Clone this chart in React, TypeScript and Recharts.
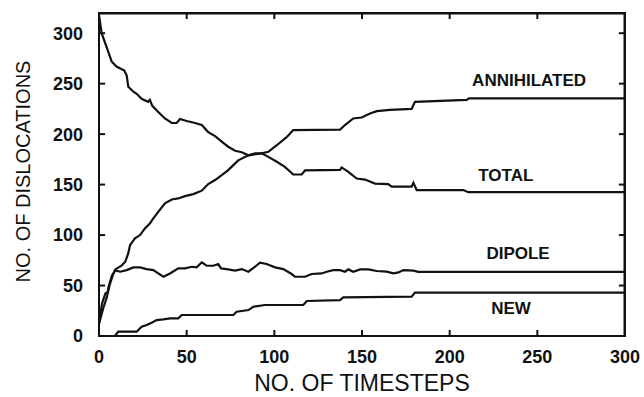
import { LineChart, Line, XAxis, YAxis, ReferenceDot, ReferenceArea } from "recharts";

type Pt = [number, number];

// [timestep, count]
const total: Pt[] = [
  [0, 318], [1.5, 300], [4.4, 286], [7.2, 272], [10, 267], [14.4, 263], [15.8, 258],
  [16.7, 247], [19.6, 242], [21.5, 240], [24.3, 235], [28, 232], [29, 234], [30.4, 228],
  [33.8, 222], [37.6, 215.5], [41.5, 211], [44.3, 211], [46.2, 215], [50, 213], [54.8, 211],
  [58.6, 209], [62.3, 202], [66.2, 198], [70, 192.5], [73.7, 187.5], [77.6, 183.5],
  [81.4, 182], [85.2, 179], [89, 181], [92.8, 181], [96.6, 177.5], [101.4, 172.6],
  [106, 167.6], [110.8, 160], [115.6, 160], [117.5, 164], [137.5, 164.5], [138.4, 167],
  [142.2, 162.7], [147, 156], [151.7, 155], [157.4, 151], [165, 150.5], [166.9, 148],
  [178.3, 148], [179.3, 151.8], [181.2, 144.6], [207.8, 144.6], [210.6, 142.5], [300, 142.5],
];

const annihilated: Pt[] = [
  [0, 12], [2.5, 28], [4.4, 38], [6, 50], [7.8, 60], [9.3, 66], [13, 70], [15, 73.6],
  [16.7, 82], [17.7, 90], [20.5, 96.7], [23.4, 100], [26.2, 106.6], [29, 111.5], [31, 116.5],
  [33.8, 123], [37.6, 131.4], [41.5, 135.3], [45.2, 136.3], [49, 138.6], [53.8, 140.6],
  [58.6, 144], [62.3, 150.5], [66.2, 154.5], [70, 159.4], [73.7, 164.4], [79.4, 174],
  [85.2, 179], [92.8, 181], [96.6, 182.5], [101.4, 189], [107, 197], [110.8, 204],
  [137.5, 204.5], [140.3, 209], [145, 215.5], [149.8, 216.5], [154.6, 220.5], [158.4, 222.8],
  [166, 224], [178.3, 225], [180.2, 232], [209.7, 234], [211, 235.5], [300, 235.5],
];

const dipole: Pt[] = [
  [0, 12], [1.7, 32], [3.6, 42], [5, 44], [5.5, 49], [7.4, 60], [9.3, 65], [12.1, 63.7],
  [15.8, 65.3], [19.6, 68], [23.4, 68], [27.2, 66.3], [31, 65.3], [33.8, 62], [36.7, 58.7],
  [40.5, 62], [45.2, 67], [49, 67], [52.9, 68.6], [55.7, 68], [58.6, 73], [61.4, 69.6],
  [65.2, 69.6], [68, 71.3], [69.6, 67], [72.8, 66.3], [77.6, 64.7], [81.4, 66.3],
  [85.2, 63.7], [89, 68.6], [91.8, 72.6], [95.6, 71.3], [100.4, 68], [105.1, 66.3],
  [109.9, 61.4], [111.8, 58.7], [117.5, 58.7], [121.3, 61.4], [127, 62], [129.9, 63.7],
  [133.6, 65.3], [137.5, 65.3], [140.3, 63.7], [142.2, 66], [145, 63.7], [148.9, 66],
  [153.6, 66], [158.4, 64.4], [164.1, 63.7], [167.9, 62], [170.8, 63], [173.6, 65.3],
  [179.3, 64.7], [182.1, 63.5], [300, 63.5],
];

const created: Pt[] = [
  [0, 0], [9.1, 0], [11, 4.3], [21.5, 4.3], [24.3, 9.2], [27.2, 10.9], [30, 13.2],
  [32.9, 15.8], [36.7, 16.5], [40.5, 17.5], [45.2, 17.5], [47.2, 20.8], [76.6, 20.8],
  [78.5, 24], [85.2, 25.7], [88, 29], [94.7, 30.7], [116.5, 30.7], [118.5, 34.7],
  [137.5, 35.6], [139.3, 38.3], [178.3, 39], [180.2, 43], [300, 43],
];

const xTicks = [0, 50, 100, 150, 200, 250, 300];
const yTicks = [0, 50, 100, 150, 200, 250, 300];

// curve names, placed in data units
const curveLabels = [
  { text: "ANNIHILATED", at: [245.3, 253.5] },
  { text: "TOTAL", at: [232, 159.4] },
  { text: "DIPOLE", at: [239, 82.2] },
  { text: "NEW", at: [235, 27.7] },
];

const X_MAX = 300;
const Y_MAX = 320;
// inward tick length in data units (~6px)
const X_TICK_LEN = 3.5;
const Y_TICK_LEN = 6;

const ink = "#111";
const font = "'Liberation Sans', Arial, Helvetica, sans-serif";

const toRows = (pts: Pt[]) => pts.map(([x, y]) => ({ x, y }));

function YTitle(props: any) {
  const vb = props.viewBox ?? { x: 0, y: 13, width: 99, height: 323 };
  const cx = vb.x + 29.5;
  const cy = vb.y + vb.height / 2 - 3;
  return (
    <text
      x={cx}
      y={cy}
      transform={`rotate(-90 ${cx} ${cy})`}
      textAnchor="middle"
      fontSize={20}
      fill={ink}
      fontFamily={font}
    >
      NO. OF DISLOCATIONS
    </text>
  );
}

export default function App() {
  const series = [total, annihilated, dipole, created];
  const axisLine = { stroke: ink, strokeWidth: 2 };
  const tickText = { fill: ink, fontSize: 18, fontWeight: 700 };

  // closing box and inward tick marks on all four sides
  const frame: Pt[] = [[0, Y_MAX], [X_MAX, Y_MAX], [X_MAX, 0]];
  const innerX = xTicks.filter((t) => t > 0 && t < X_MAX);
  const innerY = yTicks.filter((t) => t > 0);
  const tickMarks: Pt[][] = [
    ...innerX.map((t): Pt[] => [[t, 0], [t, Y_TICK_LEN]]),
    ...innerX.map((t): Pt[] => [[t, Y_MAX], [t, Y_MAX - Y_TICK_LEN]]),
    ...innerY.map((t): Pt[] => [[0, t], [X_TICK_LEN, t]]),
    ...innerY.map((t): Pt[] => [[X_MAX, t], [X_MAX - X_TICK_LEN, t]]),
  ];

  return (
    <div style={{ position: "absolute", left: 0, top: 0, background: "#fff", fontFamily: font }}>
      <LineChart width={644} height={397} margin={{ top: 13, right: 19, bottom: 0, left: 0 }}>
        <XAxis
          dataKey="x"
          type="number"
          domain={[0, X_MAX]}
          ticks={xTicks}
          interval={0}
          allowDataOverflow
          height={61}
          tickSize={0}
          tickMargin={14}
          axisLine={axisLine}
          tickLine={false}
          tick={tickText}
          label={{ value: "NO. OF TIMESTEPS", position: "insideBottom", offset: 6, fontSize: 23, fill: ink }}
        />
        <YAxis
          type="number"
          domain={[0, Y_MAX]}
          ticks={yTicks}
          interval={0}
          allowDataOverflow
          width={99}
          tickSize={0}
          tickMargin={16}
          axisLine={axisLine}
          tickLine={false}
          tick={tickText}
          label={{ content: YTitle }}
        />
        <ReferenceArea
          x1={0}
          x2={X_MAX}
          y1={0}
          y2={Y_MAX}
          ifOverflow="visible"
          fill="none"
          stroke={ink}
          strokeWidth={2}
        />
        {series.map((pts, i) => (
          <Line
            key={`s${i}`}
            data={toRows(pts)}
            dataKey="y"
            type="linear"
            stroke={ink}
            strokeWidth={2.2}
            dot={false}
            isAnimationActive={false}
          />
        ))}
        <Line data={toRows(frame)} dataKey="y" stroke={ink} strokeWidth={3} dot={false} isAnimationActive={false} />
        {tickMarks.map((seg, i) => (
          <Line
            key={`t${i}`}
            data={toRows(seg)}
            dataKey="y"
            stroke={ink}
            strokeWidth={2}
            dot={false}
            isAnimationActive={false}
          />
        ))}
        {curveLabels.map((l) => (
          <ReferenceDot
            key={l.text}
            x={l.at[0]}
            y={l.at[1]}
            r={1}
            fill="none"
            stroke="none"
            label={{ value: l.text, position: "center", fontSize: 17, fontWeight: 700, fill: ink }}
          />
        ))}
      </LineChart>
    </div>
  );
}
